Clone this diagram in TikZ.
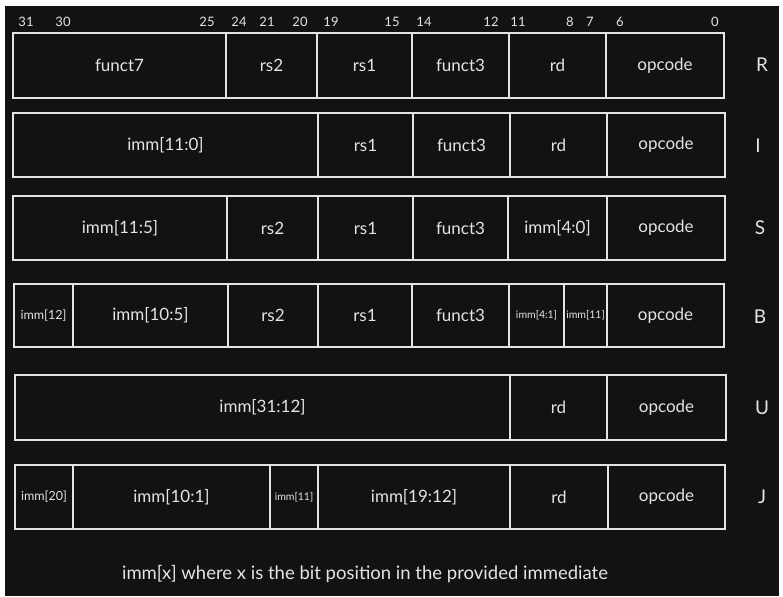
\documentclass[tikz,border=0pt]{standalone}
\usepackage{fontspec}
\setmainfont{Lato}
\definecolor{bg}{HTML}{121212}
\definecolor{ink}{HTML}{E4E4E4}
\tikzset{
  field/.style={draw=ink, line width=1.1pt, text=ink, rectangle, inner sep=0pt, outer sep=0pt,
    font=\fontsize{17}{20}\selectfont},
  smallfield/.style={font=\fontsize{12.5}{15}\selectfont},
  tinyfield/.style={font=\fontsize{10.5}{12}\selectfont},
  bitlbl/.style={text=ink, inner sep=0pt, font=\fontsize{13}{15}\selectfont},
  rowlbl/.style={text=ink, inner sep=0pt, font=\fontsize{19}{22}\selectfont},
  note/.style={text=ink, inner sep=0pt, font=\fontsize{18.5}{22}\selectfont}
}
\newcommand{\regfield}[7][]{%
  \pgfmathsetmacro{\rfw}{#4-#3}\pgfmathsetmacro{\rfh}{#6-#5}%
  \node[field,minimum width=\rfw pt,minimum height=\rfh pt,anchor=north west,#1] (#2) at (#3,#5) {#7};}
\begin{document}
\begin{tikzpicture}[x={(1pt,0pt)}, y={(0pt,-1pt)}]
\useasboundingbox (0,0) rectangle (783,596);
\fill[white] (0,0) rectangle (783,596);
\fill[bg] (5,6) rectangle (779,596);

% bit positions
\node[bitlbl] (b31) at (26,22) {31};
\node[bitlbl] (b30) at (63,22) {30};
\node[bitlbl] (b25) at (207,22) {25};
\node[bitlbl] (b24) at (239,22) {24};
\node[bitlbl] (b21) at (267,22) {21};
\node[bitlbl] (b20) at (300,22) {20};
\node[bitlbl] (b19) at (331,22) {19};
\node[bitlbl] (b15) at (392,22) {15};
\node[bitlbl] (b14) at (424,22) {14};
\node[bitlbl] (b12) at (491,22) {12};
\node[bitlbl] (b11) at (518,22) {11};
\node[bitlbl] (b8) at (570,22) {8};
\node[bitlbl] (b7) at (590,22) {7};
\node[bitlbl] (b6) at (620,22) {6};
\node[bitlbl] (b0) at (715,22) {0};

% R-type
\regfield{rF7}{13}{226}{33}{98}{funct7}
\regfield{rRs2}{226}{317}{33}{98}{rs2}
\regfield{rRs1}{317}{412}{33}{98}{rs1}
\regfield{rF3}{412}{509}{33}{98}{funct3}
\regfield{rRd}{509}{606}{33}{98}{rd}
\regfield{rOp}{606}{724}{33}{98}{opcode}
\node[rowlbl] (tR) at (762,65) {R};

% I-type
\regfield{iImm}{13}{318}{113}{177}{imm[11:0]}
\regfield{iRs1}{318}{413}{113}{177}{rs1}
\regfield{iF3}{413}{510}{113}{177}{funct3}
\regfield{iRd}{510}{607}{113}{177}{rd}
\regfield{iOp}{607}{725}{113}{177}{opcode}
\node[rowlbl] (tI) at (758,146) {I};

% S-type
\regfield{sImmHi}{13}{227}{196}{260}{imm[11:5]}
\regfield{sRs2}{227}{318}{196}{260}{rs2}
\regfield{sRs1}{318}{413}{196}{260}{rs1}
\regfield{sF3}{413}{508}{196}{260}{funct3}
\regfield{sImmLo}{508}{607}{196}{260}{imm[4:0]}
\regfield{sOp}{607}{725}{196}{260}{opcode}
\node[rowlbl] (tS) at (760,228) {S};

% B-type
\regfield[smallfield]{bImm12}{14}{73}{284}{347}{imm[12]}
\regfield{bImmHi}{73}{228}{284}{347}{imm[10:5]}
\regfield{bRs2}{228}{318}{284}{347}{rs2}
\regfield{bRs1}{318}{412}{284}{347}{rs1}
\regfield{bF3}{412}{509}{284}{347}{funct3}
\regfield[tinyfield]{bImmLo}{509}{564}{284}{347}{imm[4:1]}
\regfield[tinyfield]{bImm11}{564}{607}{284}{347}{imm[11]}
\regfield{bOp}{607}{724}{284}{347}{opcode}
\node[rowlbl] (tB) at (760,317) {B};

% U-type
\regfield{uImm}{15}{510}{375}{440}{imm[31:12]}
\regfield{uRd}{510}{607}{375}{440}{rd}
\regfield{uOp}{607}{726}{375}{440}{opcode}
\node[rowlbl] (tU) at (762,408) {U};

% J-type
\regfield[smallfield]{jImm20}{15}{73}{465}{529}{imm[20]}
\regfield{jImmLo}{73}{270}{465}{529}{imm[10:1]}
\regfield[tinyfield]{jImm11}{270}{318}{465}{529}{imm[11]}
\regfield{jImmHi}{318}{510}{465}{529}{imm[19:12]}
\regfield{jRd}{510}{608}{465}{529}{rd}
\regfield{jOp}{608}{725}{465}{529}{opcode}
\node[rowlbl] (tJ) at (762,497) {J};

\node[note] (note) at (365,574) {imm[x] where x is the bit position in the provided immediate};
\end{tikzpicture}
\end{document}
